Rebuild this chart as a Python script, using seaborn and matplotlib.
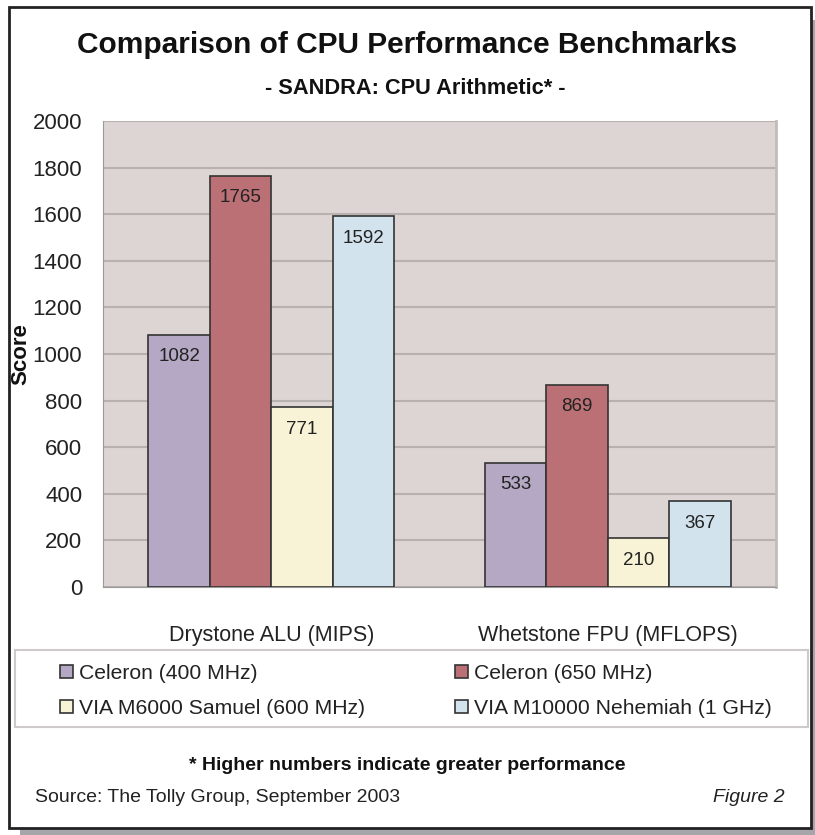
import pandas as pd
import seaborn as sns
import matplotlib.pyplot as plt
from matplotlib.patches import Rectangle

# ---------------------------
# Data
# ---------------------------
categories = ["Drystone ALU (MIPS)", "Whetstone FPU (MFLOPS)"]
processors = ["Celeron (400 MHz)", "Celeron (650 MHz)",
              "VIA M6000 Samuel (600 MHz)", "VIA M10000 Nehemiah (1 GHz)"]
drystone = [1082, 1765, 771, 1592]
whetstone = [533, 869, 210, 367]
yticks = [0, 200, 400, 600, 800, 1000, 1200, 1400, 1600, 1800, 2000]

colors = ["#B4A8C4", "#BA7074", "#F8F3D6", "#D2E3EE"]

df = pd.DataFrame({
    "Benchmark": [categories[0]] * 4 + [categories[1]] * 4,
    "Processor": processors * 2,
    "Score": drystone + whetstone,
})

# ---------------------------
# Style
# ---------------------------
sns.set_style("white")
plt.rcParams["font.family"] = ["Liberation Sans", "DejaVu Sans"]

W, H = 815, 835
fig = plt.figure(figsize=(W / 100, H / 100), dpi=100)


def fx(x):
    return x / W


def fy(y):
    return 1 - y / H


# frame + drop shadow
fig.add_artist(Rectangle((fx(20), fy(835)), fx(795), 7 / H, transform=fig.transFigure,
                         facecolor="#A6A6AA", edgecolor="none", zorder=0))
fig.add_artist(Rectangle((fx(811), fy(835)), fx(4), (835 - 20) / H, transform=fig.transFigure,
                         facecolor="#A6A6AA", edgecolor="none", zorder=0))
fig.add_artist(Rectangle((fx(9), fy(828)), fx(802), (828 - 7) / H, transform=fig.transFigure,
                         facecolor="white", edgecolor="#222222", linewidth=2, zorder=0))

ax = fig.add_axes([fx(103), fy(587), fx(776 - 103), (587 - 121) / H])
ax.set_facecolor("#DCD5D4")

sns.barplot(data=df, x="Benchmark", y="Score", hue="Processor", order=categories,
            hue_order=processors, palette=colors, width=0.73, gap=0,
            edgecolor="#333333", linewidth=1.2, saturation=1, ax=ax, zorder=3)

# value labels inside the bars, near the top
for cont in ax.containers:
    for bar in cont:
        ax.annotate(f"{bar.get_height():.0f}",
                    (bar.get_x() + bar.get_width() / 2, bar.get_height()),
                    xytext=(0, -22), textcoords="offset pixels",
                    ha="center", va="center", fontsize=13.5, color="#222222", zorder=5)

ax.set_ylim(0, 2000)
ax.set_xlim(-0.5, 1.5)
ax.set_yticks(yticks)
ax.yaxis.grid(True, color="#B9B1B0", linewidth=1.5, zorder=0)
ax.set_axisbelow(True)
ax.tick_params(axis="y", length=7, width=1, color="#999999", pad=8, labelsize=16,
               labelcolor="#222222")
ax.tick_params(axis="x", which="major", length=0, pad=27, labelsize=15.5, labelcolor="#222222")
ax.set_xticks([-0.5, 1.5], minor=True)
ax.tick_params(axis="x", which="minor", length=8, color="#999999")
ax.spines["top"].set_visible(False)
ax.spines["right"].set_color("#C2BBBA")
ax.spines["right"].set_linewidth(2)
ax.spines["left"].set_color("#999999")
ax.spines["bottom"].set_color("#999999")

ax.set_xlabel("")
ax.set_ylabel("Score", fontsize=16, fontweight="bold", color="#111111")
ax.yaxis.set_label_coords((31 - 103) / 673, 0.5)

# legend: rows ordered like the original (column-wise fill)
handles, labels = ax.get_legend_handles_labels()
ax.get_legend().remove()
order = [0, 2, 1, 3]
fig.add_artist(Rectangle((fx(15), fy(727)), fx(808 - 15), (727 - 650) / H,
                         transform=fig.transFigure, facecolor="white",
                         edgecolor="#CFCACA", linewidth=1.5, zorder=1))
fig.legend([handles[i] for i in order], [labels[i] for i in order],
           loc="center left", bbox_to_anchor=(fx(60), fy(691), fx(712), 0),
           mode="expand", ncol=2, frameon=False, fontsize=15.2,
           handlelength=0.6, handleheight=0.6, handletextpad=0.3,
           labelspacing=0.75, borderpad=0, borderaxespad=0,
           labelcolor="#222222")

# titles and notes
fig.text(0.5, fy(45), "Comparison of CPU Performance Benchmarks", ha="center", va="center",
         fontsize=21.5, fontweight="bold", color="#111111")
fig.text(0.51, fy(89), "- SANDRA: CPU Arithmetic* -", ha="center", va="center",
         fontsize=15.7, fontweight="bold", color="#111111")
fig.text(0.5, fy(766), "* Higher numbers indicate greater performance", ha="center",
         va="center", fontsize=14, fontweight="bold", color="#111111")
fig.text(fx(35), fy(798), "Source: The Tolly Group, September 2003", ha="left", va="center",
         fontsize=14, color="#222222")
fig.text(fx(785), fy(798), "Figure 2", ha="right", va="center", fontsize=14,
         style="italic", color="#222222")

fig.savefig("out.png", dpi=100)
